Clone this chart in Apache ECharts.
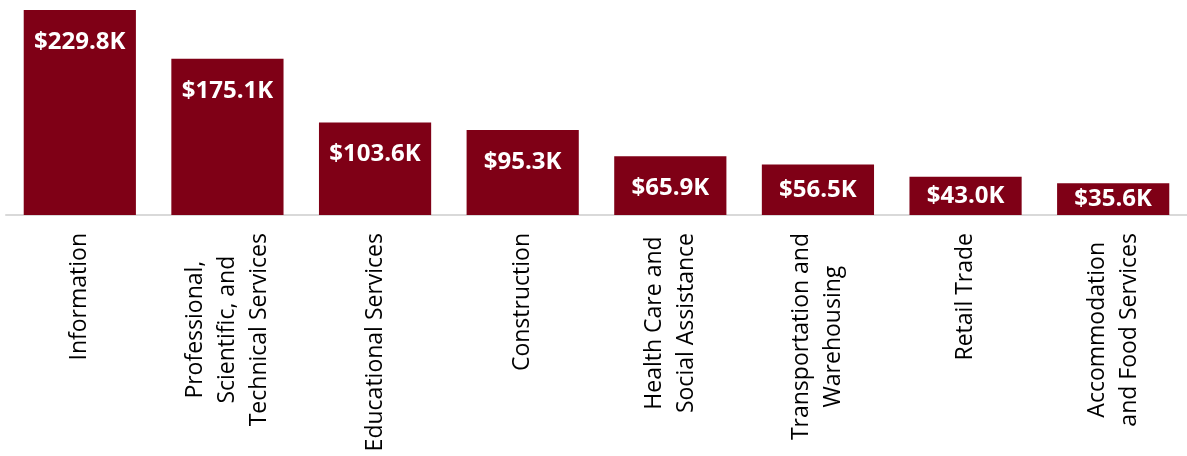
<!DOCTYPE html>
<html>
<head>
<meta charset="utf-8">
<script src="https://cdn.jsdelivr.net/npm/echarts@6/dist/echarts.min.js"></script>
<style>
  html, body { margin: 0; padding: 0; background: #ffffff; }
  #chart { width: 1187px; height: 456px; }
</style>
</head>
<body>
<div id="chart"></div>
<script>
// Industries, in the order the bars are drawn
const categories = [
  'Information',
  'Professional,\nScientific, and\nTechnical Services',
  'Educational Services',
  'Construction',
  'Health Care and\nSocial Assistance',
  'Transportation and\nWarehousing',
  'Retail Trade',
  'Accommodation\nand Food Services'
];

// Values in thousands of dollars
const values = [229.8, 175.1, 103.6, 95.3, 65.9, 56.5, 43.0, 35.6];

const BAR_COLOR = '#7f0016';
const FONT = '"Open Sans", "Noto Sans", sans-serif';

// Short bars get their label centred instead of pinned near the top
const seriesData = values.map(v => ({
  value: v,
  label: v < 60 ? { position: 'inside' } : { position: 'insideTop', distance: 20 }
}));

const chart = echarts.init(document.getElementById('chart'), null, { renderer: 'canvas' });

chart.setOption({
  animation: false,
  backgroundColor: '#ffffff',
  grid: { left: 6, width: 1190, top: 10, bottom: 241, containLabel: false },
  xAxis: {
    type: 'category',
    data: categories,
    axisLine: { show: true, lineStyle: { color: '#d9d9d9', width: 2 } },
    axisTick: { show: false },
    axisLabel: {
      interval: 0,
      rotate: 90,
      margin: 18,
      color: '#000000',
      fontFamily: FONT,
      fontSize: 23,
      lineHeight: 32,
      formatter: s => s.split('\n').map(l => '{c|' + l + '}').join('\n'),
      rich: {
        c: { align: 'center', fontFamily: FONT, fontSize: 23, lineHeight: 32, color: '#000000' }
      }
    }
  },
  yAxis: {
    type: 'value',
    min: 0,
    max: v => v.max,
    show: false,
    splitLine: { show: false }
  },
  series: [{
    type: 'bar',
    data: seriesData,
    barCategoryGap: '24%',
    itemStyle: { color: BAR_COLOR },
    label: {
      show: true,
      color: '#ffffff',
      fontFamily: FONT,
      fontWeight: 'bold',
      fontSize: 24,
      formatter: p => '$' + p.value.toFixed(1) + 'K'
    }
  }]
});
</script>
</body>
</html>
